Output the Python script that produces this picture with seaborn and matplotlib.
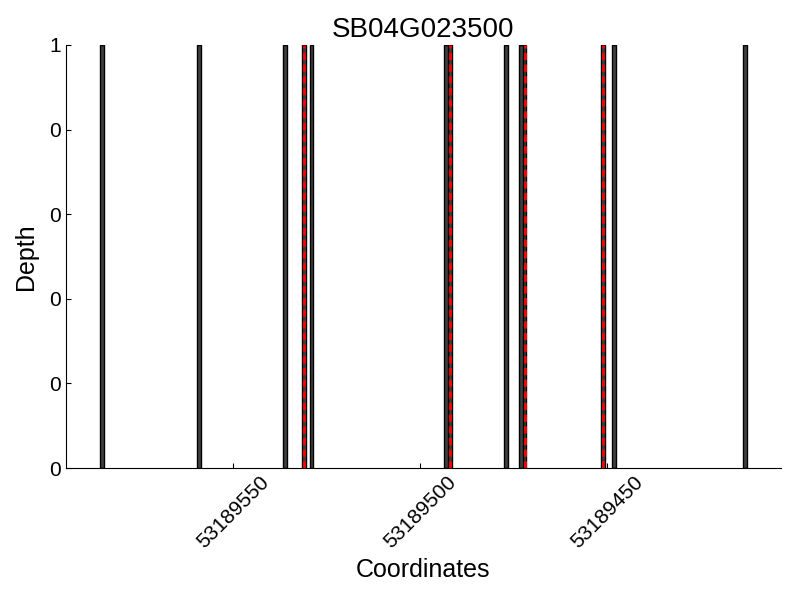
import numpy as np
import pandas as pd
import matplotlib
matplotlib.use('Agg')
import matplotlib.pyplot as plt
import seaborn as sns

# read data positions (coordinates on the gene) and depth values
gene = 'SB04G023500'
positions = [53189585, 53189559, 53189536, 53189531, 53189529,
             53189493, 53189492, 53189477, 53189473, 53189472,
             53189451, 53189448, 53189413]
depth = [1, 1, 1, 1, 1, 1, 1, 1, 1, 1, 1, 1, 1]
snp_positions = [53189531, 53189492, 53189472, 53189451]
xticks = [53189550, 53189500, 53189450]
yticks = [0, 0.2, 0.4, 0.6, 0.8, 1.0]

df = pd.DataFrame({'Coordinates': positions, 'Depth': depth})

sns.set_style('ticks')
plt.rcParams['font.family'] = ['Liberation Sans', 'DejaVu Sans']
plt.rcParams['xtick.direction'] = 'in'
plt.rcParams['ytick.direction'] = 'in'
for k in ['text.color', 'axes.labelcolor', 'xtick.color', 'ytick.color', 'axes.edgecolor']:
    plt.rcParams[k] = 'black'

fig = plt.figure(figsize=(8, 6), dpi=100)
ax = fig.add_axes([0.0825, 0.22, 0.8935, 0.705])

sns.barplot(data=df, x='Coordinates', y='Depth', native_scale=True,
            width=1, color='#404040', edgecolor='black', linewidth=1,
            saturation=1, ax=ax)

for p in snp_positions:
    ax.axvline(p, color='red', lw=2, dashes=(2.6, 1.6))

ax.set_xlim(53189594.6, 53189403.5)
ax.set_ylim(0, 1)
ax.set_xticks(xticks)
ax.set_xticklabels([str(t) for t in xticks], rotation=45, fontsize=15)
ax.set_yticks(yticks)
ax.set_yticklabels(['%d' % t for t in yticks], fontsize=15)
ax.set_xlabel('Coordinates', fontsize=18)
ax.set_ylabel('Depth', fontsize=18, labelpad=8)
ax.set_title(gene, fontsize=20)
sns.despine(ax=ax)

plt.savefig('out.png', dpi=100)
plt.close()
